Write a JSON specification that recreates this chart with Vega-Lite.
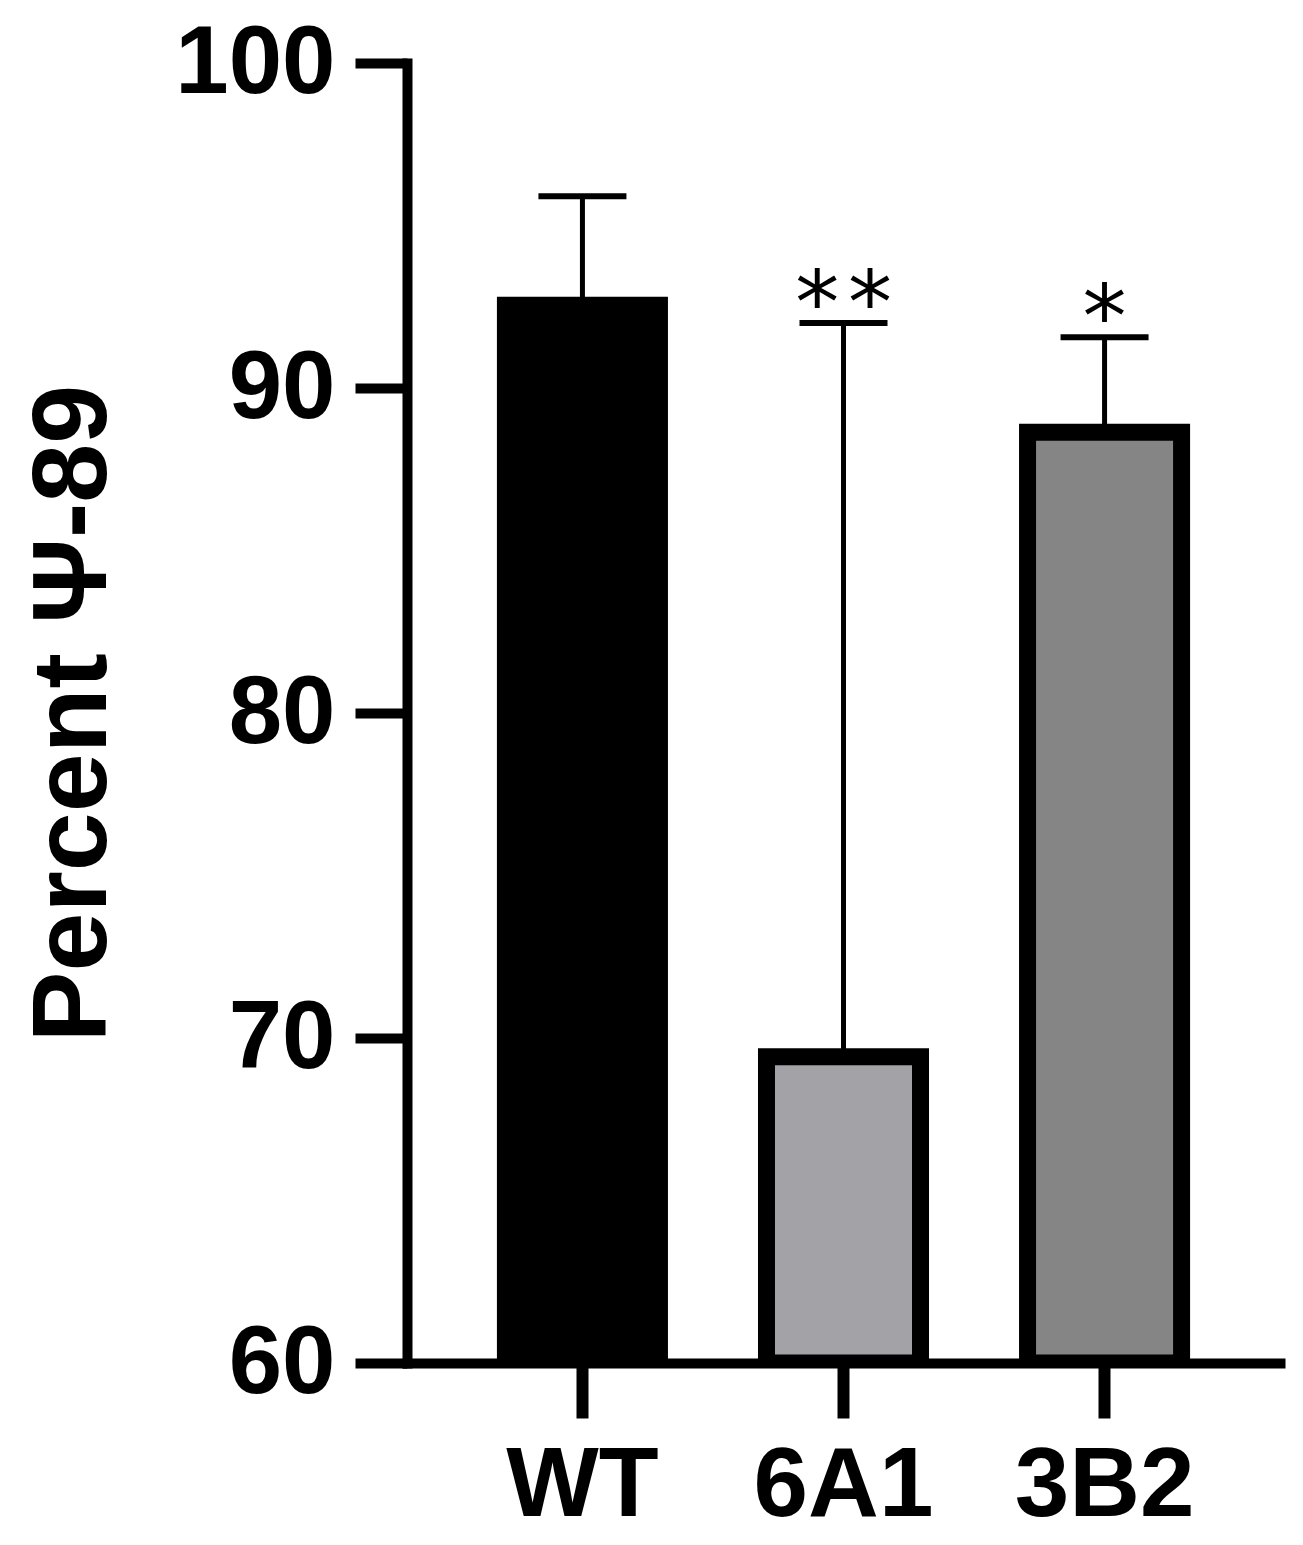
{
  "$schema": "https://vega.github.io/schema/vega-lite/v6.json",
  "autosize": {"type": "none"},
  "width": 873,
  "height": 1300,
  "padding": {"left": 407, "top": 63, "right": 23, "bottom": 182},
  "background": "white",
  "config": {
    "view": {"stroke": null},
    "font": "Liberation Sans",
    "axis": {
      "domainColor": "black",
      "tickColor": "black",
      "labelColor": "black",
      "titleColor": "black",
      "labelFont": "Liberation Sans",
      "titleFont": "Liberation Sans",
      "labelFontWeight": "bold",
      "titleFontWeight": "bold",
      "grid": false,
      "domainCap": "square",
      "zindex": 1
    }
  },
  "data": {
    "values": [
      {"group": "WT", "mean": 92.55, "upper": 95.9, "sig": ""},
      {"group": "6A1", "mean": 69.42, "upper": 92.0, "sig": "*\u200a*"},
      {"group": "3B2", "mean": 88.64, "upper": 91.56, "sig": "*"}
    ]
  },
  "encoding": {
    "x": {
      "field": "group",
      "type": "nominal",
      "sort": ["WT", "6A1", "3B2"],
      "title": null,
      "scale": {"paddingInner": 0.41, "paddingOuter": 0.377},
      "axis": {
        "labelAngle": 0,
        "labelFontSize": 98,
        "labelPadding": 20,
        "domainWidth": 10,
        "tickWidth": 12,
        "tickSize": 55
      }
    }
  },
  "layer": [
    {
      "mark": {"type": "bar", "stroke": "black", "strokeWidth": 17, "clip": true},
      "encoding": {
        "y": {
          "field": "mean",
          "type": "quantitative",
          "title": "Percent Ψ-89",
          "scale": {"domain": [60, 100], "nice": false, "zero": false},
          "axis": {
            "values": [60, 70, 80, 90, 100],
            "labelFontSize": 96,
            "labelPadding": 20,
            "domainWidth": 10,
            "tickWidth": 10,
            "tickSize": 52,
            "titleFontSize": 106,
            "titlePadding": 80
          }
        },
        "y2": {"datum": 60},
        "color": {
          "field": "group",
          "type": "nominal",
          "scale": {"domain": ["WT", "6A1", "3B2"], "range": ["#000000", "#a3a3a7", "#858585"]},
          "legend": null
        }
      }
    },
    {
      "mark": {"type": "rule", "color": "black", "strokeWidth": 5},
      "encoding": {
        "y": {"field": "mean", "type": "quantitative"},
        "y2": {"field": "upper"}
      }
    },
    {
      "mark": {"type": "tick", "orient": "horizontal", "color": "black", "opacity": 1, "size": 88, "thickness": 6},
      "encoding": {
        "y": {"field": "upper", "type": "quantitative"}
      }
    },
    {
      "mark": {"type": "text", "font": "DejaVu Sans", "fontSize": 88, "baseline": "alphabetic", "dy": 10, "color": "black"},
      "encoding": {
        "y": {"field": "upper", "type": "quantitative"},
        "text": {"field": "sig"}
      }
    }
  ]
}
